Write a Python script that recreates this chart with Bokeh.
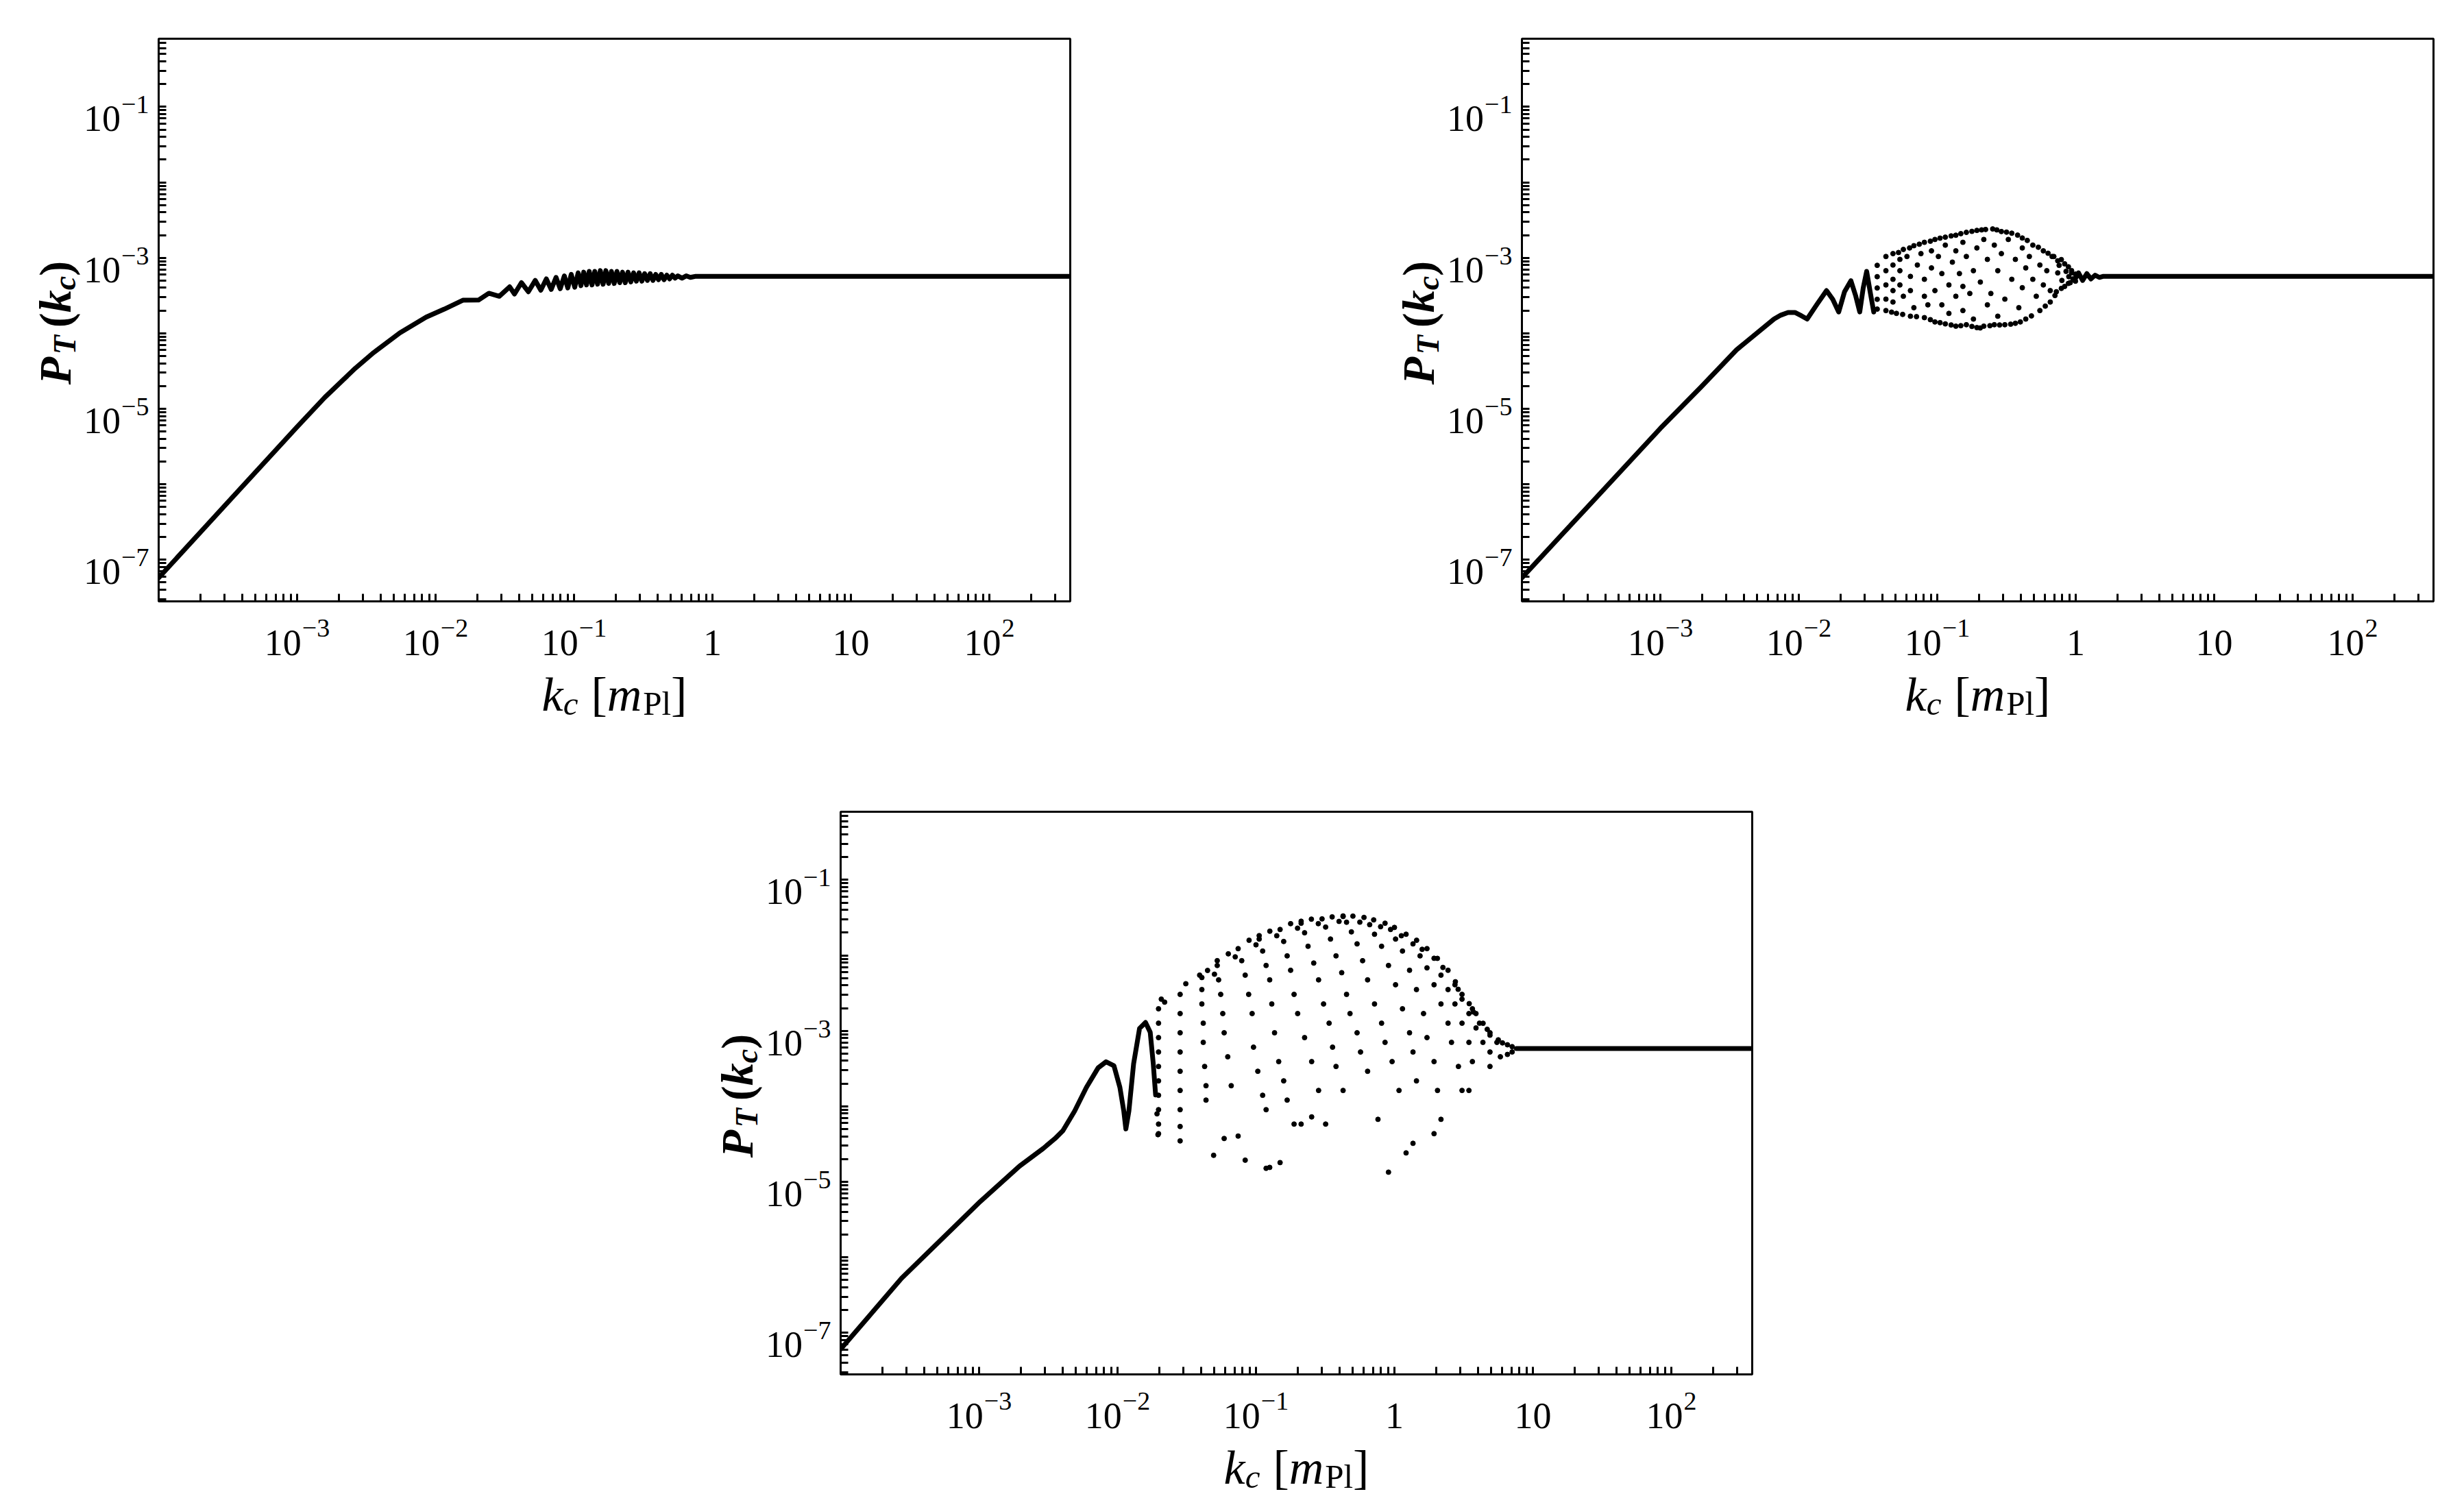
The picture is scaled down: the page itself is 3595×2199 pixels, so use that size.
import math
from bokeh.plotting import figure
from bokeh.models import Range1d, FixedTicker, Label, CustomJSTickFormatter, Spacer
from bokeh.layouts import column, row
from bokeh.embed import file_html
from bokeh.resources import INLINE

# ---------------- axis values ----------------
X_LIM_LOG10 = (-4.0, 2.584)
Y_LIM_LOG10 = (-7.553, -0.097)
x_tick_values = [1e-3, 1e-2, 1e-1, 1.0, 10.0, 100.0]
x_tick_base = ["10", "10", "10", "1", "10", "10"]
x_tick_exp = ["\u22123", "\u22122", "\u22121", "", "", "2"]
y_tick_values = [1e-7, 1e-5, 1e-3, 1e-1]
y_tick_base = ["10", "10", "10", "10"]
y_tick_exp = ["\u22127", "\u22125", "\u22123", "\u22121"]

# ---------------- data (log10 k_c, log10 P_T) ----------------
# panel A (top left): smooth rise, small oscillations, plateau
a_line = [(-4.0, -7.24), (-3.5, -6.24), (-3.0, -5.24), (-2.8, -4.85), (-2.581, -4.466),
          (-2.447, -4.256), (-2.258, -3.995), (-2.068, -3.787), (-1.937, -3.68), (-1.803, -3.562),
          (-1.69, -3.56), (-1.615, -3.47), (-1.54, -3.51), (-1.465, -3.385),
          (-1.43, -3.48), (-1.38, -3.33), (-1.33, -3.45), (-1.28, -3.30), (-1.24, -3.43),
          (-1.20, -3.28), (-1.165, -3.42), (-1.13, -3.26), (-1.10, -3.41), (-1.07, -3.24),
          (-1.045, -3.40), (-1.02, -3.22), (-0.995, -3.39), (-0.97, -3.20),
          (-0.95, -3.37), (-0.93, -3.19), (-0.91, -3.36), (-0.89, -3.18), (-0.87, -3.36),
          (-0.85, -3.18), (-0.83, -3.35), (-0.81, -3.17), (-0.79, -3.35), (-0.77, -3.17),
          (-0.75, -3.34), (-0.73, -3.18), (-0.71, -3.34), (-0.69, -3.18), (-0.67, -3.33),
          (-0.65, -3.19), (-0.63, -3.33), (-0.61, -3.19), (-0.59, -3.32), (-0.57, -3.20),
          (-0.55, -3.31), (-0.53, -3.20), (-0.51, -3.31), (-0.49, -3.21), (-0.47, -3.30),
          (-0.45, -3.21), (-0.43, -3.30), (-0.41, -3.22), (-0.39, -3.29), (-0.37, -3.22),
          (-0.35, -3.29), (-0.33, -3.23), (-0.31, -3.28), (-0.29, -3.23), (-0.27, -3.27),
          (-0.25, -3.24), (-0.22, -3.27), (-0.19, -3.24), (-0.16, -3.26), (-0.12, -3.245),
          (2.584, -3.245)]

# panel B (top right)
b_line_low = [(-4.0, -7.24), (-3.5, -6.25), (-3.0, -5.26), (-2.71, -4.72), (-2.45, -4.22),
              (-2.179, -3.812), (-2.13, -3.76), (-2.078, -3.725), (-2.028, -3.725), (-1.98, -3.77),
              (-1.94, -3.812), (-1.87, -3.62), (-1.80, -3.435), (-1.755, -3.55), (-1.712, -3.718),
              (-1.67, -3.45), (-1.624, -3.304), (-1.59, -3.5), (-1.56, -3.718), (-1.535, -3.40),
              (-1.51, -3.18), (-1.485, -3.45), (-1.459, -3.718)]
b_line_high = [(-0.01, -3.30), (0.02, -3.20), (0.05, -3.30), (0.08, -3.21), (0.11, -3.28),
               (0.14, -3.23), (0.17, -3.26), (0.20, -3.245), (2.584, -3.245)]
b_dots = [(-1.434, -3.10), (-1.434, -3.25), (-1.434, -3.40), (-1.434, -3.55), (-1.434, -3.68),
          (-1.320, -2.945), (-1.245, -2.889), (-1.169, -2.840), (-1.093, -2.795), (-1.017, -2.757),
          (-0.942, -2.727), (-0.866, -2.701), (-0.790, -2.663), (-0.714, -2.637), (-0.651, -2.625),
          (-0.600, -2.618), (-0.537, -2.652), (-0.462, -2.674), (-0.386, -2.738), (-0.310, -2.832),
          (-0.234, -2.908), (-0.171, -2.983),
          (-1.371, -3.699), (-1.295, -3.737), (-1.194, -3.774), (-1.093, -3.793), (-1.017, -3.850),
          (-0.942, -3.876), (-0.866, -3.906), (-0.790, -3.887), (-0.714, -3.925), (-0.664, -3.906),
          (-0.588, -3.887), (-0.512, -3.887), (-0.436, -3.868), (-0.361, -3.812), (-0.259, -3.699),
          (-0.184, -3.586),
          (-1.371, -2.983), (-1.371, -3.171), (-1.371, -3.360), (-1.371, -3.548),
          (-1.320, -3.096), (-1.320, -3.285), (-1.320, -3.435), (-1.320, -3.586),
          (-1.270, -3.021), (-1.270, -3.171), (-1.270, -3.360), (-1.245, -3.510),
          (-1.219, -2.983), (-1.194, -3.247), (-1.194, -3.435), (-1.169, -3.661),
          (-1.144, -3.096), (-1.118, -2.945), (-1.093, -3.285), (-1.093, -3.510),
          (-1.068, -3.624), (-1.042, -2.908), (-1.042, -3.134), (-1.017, -3.435),
          (-0.992, -2.983), (-0.967, -3.209), (-0.967, -3.624), (-0.942, -2.832),
          (-0.916, -3.360), (-0.916, -3.737), (-0.891, -3.058), (-0.866, -2.908),
          (-0.866, -3.510), (-0.840, -3.209), (-0.815, -2.795), (-0.815, -3.379),
          (-0.815, -3.699), (-0.790, -2.983), (-0.765, -3.473), (-0.739, -3.171),
          (-0.739, -3.812), (-0.714, -2.870), (-0.689, -3.322), (-0.664, -2.757),
          (-0.638, -3.021), (-0.638, -3.624), (-0.613, -3.473), (-0.588, -2.832),
          (-0.563, -3.171), (-0.563, -3.774), (-0.537, -2.945), (-0.512, -3.548),
          (-0.487, -2.757), (-0.462, -3.285), (-0.436, -3.021), (-0.411, -3.661),
          (-0.386, -2.870), (-0.386, -3.397), (-0.361, -3.134), (-0.335, -2.983),
          (-0.310, -3.285), (-0.285, -3.510), (-0.259, -3.096), (-0.234, -3.360),
          (-0.209, -3.171), (-0.184, -3.435), (-0.158, -2.983),
          (-0.104, -3.024), (-0.053, -3.12), (-0.002, -3.216), (-0.104, -3.406),
          (-0.053, -3.34), (-0.002, -3.31), (-0.13, -3.2), (-0.10, -3.3), (-0.07, -3.18),
          (-0.05, -3.25), (-0.03, -3.2), (-0.02, -3.28), (-0.12, -3.1), (-0.14, -3.45),
          (-1.28, -2.93), (-1.2, -2.87), (-1.13, -2.82), (-1.05, -2.78), (-0.98, -2.74),
          (-0.9, -2.71), (-0.83, -2.68), (-0.75, -2.65), (-0.68, -2.63), (-0.57, -2.63),
          (-0.5, -2.66), (-0.42, -2.70), (-0.35, -2.77), (-0.27, -2.86), (-0.2, -2.94),
          (-0.13, -3.04), (-0.08, -3.08), (-0.03, -3.17),
          (-1.33, -3.72), (-1.25, -3.75), (-1.15, -3.78), (-1.05, -3.82), (-0.98, -3.86),
          (-0.9, -3.89), (-0.83, -3.9), (-0.75, -3.91), (-0.69, -3.93), (-0.62, -3.9),
          (-0.55, -3.89), (-0.47, -3.88), (-0.4, -3.85), (-0.32, -3.77), (-0.22, -3.64),
          (-0.15, -3.5), (-0.08, -3.38), (-0.04, -3.33)]

# panel C (bottom)
c_line_low = [(-4.0, -7.22), (-3.56, -6.28), (-2.992, -5.263), (-2.708, -4.793), (-2.537, -4.559),
              (-2.452, -4.428), (-2.395, -4.324), (-2.31, -4.063), (-2.225, -3.75), (-2.14, -3.49),
              (-2.083, -3.411), (-2.026, -3.463), (-1.983, -3.75), (-1.955, -4.063), (-1.94, -4.30),
              (-1.918, -4.063), (-1.884, -3.437), (-1.841, -2.968), (-1.798, -2.89), (-1.764, -3.02),
              (-1.742, -3.437), (-1.725, -3.85)]
c_line_high = [(0.88, -3.235), (2.584, -3.235)]
c_dots = [(-1.708, -4.376), (-1.715, -4.10),
          (-1.704, -2.708), (-1.704, -2.899), (-1.704, -3.090), (-1.704, -3.281), (-1.704, -3.472),
          (-1.704, -3.663), (-1.704, -3.854), (-1.704, -4.045), (-1.704, -4.236), (-1.704, -4.363),
          (-1.684, -2.58), (-1.66, -2.62),
          (-1.548, -2.517), (-1.548, -2.771), (-1.548, -3.026), (-1.548, -3.281), (-1.548, -3.536),
          (-1.548, -3.790), (-1.548, -4.045), (-1.548, -4.268), (-1.548, -4.459), (-1.507, -2.376),
          (-1.391, -2.294), (-1.391, -2.453), (-1.391, -2.644), (-1.381, -2.899), (-1.381, -3.153),
          (-1.371, -3.472), (-1.361, -3.727), (-1.361, -3.918),
          (-1.280, -2.134), (-1.270, -2.325), (-1.255, -2.517), (-1.240, -2.771), (-1.230, -3.026),
          (-1.204, -3.344), (-1.179, -3.727), (-1.230, -4.427), (-1.129, -4.395),
          (-1.129, -1.911), (-1.103, -2.071), (-1.078, -2.262), (-1.053, -2.517), (-1.028, -2.771),
          (-1.018, -3.217), (-0.987, -3.536), (-0.952, -3.854), (-0.927, -4.045), (-0.901, -4.810),
          (-0.826, -4.746),
          (-0.977, -1.784), (-0.952, -1.943), (-0.927, -2.134), (-0.901, -2.325), (-0.886, -2.644),
          (-0.866, -3.026), (-0.836, -3.408), (-0.800, -3.663), (-0.775, -3.918), (-0.725, -4.236),
          (-0.826, -1.657), (-0.800, -1.816), (-0.775, -2.007), (-0.750, -2.198), (-0.725, -2.517),
          (-0.699, -2.771), (-0.649, -3.090), (-0.598, -3.408), (-0.548, -3.790), (-0.674, -4.236),
          (-0.598, -4.141),
          (-0.674, -1.574), (-0.649, -1.701), (-0.624, -1.880), (-0.583, -2.102), (-0.548, -2.325),
          (-0.512, -2.644), (-0.472, -2.899), (-0.447, -3.217), (-0.422, -3.472), (-0.371, -3.790),
          (-0.497, -4.236),
          (-0.523, -1.517), (-0.497, -1.625), (-0.462, -1.784), (-0.422, -2.007), (-0.381, -2.230),
          (-0.346, -2.517), (-0.321, -2.771), (-0.270, -3.026), (-0.245, -3.281), (-0.194, -3.536),
          (-0.119, -4.173),
          (-0.371, -1.485), (-0.346, -1.561), (-0.311, -1.689), (-0.270, -1.848), (-0.230, -2.071),
          (-0.194, -2.325), (-0.144, -2.644), (-0.093, -2.899), (-0.068, -3.153), (-0.017, -3.408),
          (0.033, -3.790), (-0.043, -4.873),
          (-0.220, -1.497), (-0.179, -1.593), (-0.144, -1.720), (-0.093, -1.880), (-0.043, -2.134),
          (0.008, -2.389), (0.058, -2.708), (0.109, -3.026), (0.134, -3.281), (0.159, -3.663),
          (0.084, -4.618), (0.134, -4.491),
          (-0.068, -1.574), (-0.028, -1.657), (0.008, -1.784), (0.058, -1.943), (0.109, -2.198),
          (0.159, -2.453), (0.210, -2.771), (0.235, -3.090), (0.286, -3.408), (0.311, -3.790),
          (0.286, -4.363), (0.336, -4.173),
          (0.084, -1.720), (0.134, -1.848), (0.185, -2.007), (0.235, -2.166), (0.286, -2.389),
          (0.336, -2.644), (0.387, -2.899), (0.412, -3.153), (0.462, -3.472), (0.488, -3.790),
          (0.235, -1.911), (0.286, -2.039), (0.336, -2.262), (0.387, -2.453), (0.437, -2.644),
          (0.488, -2.899), (0.538, -3.153), (0.563, -3.408),
          (0.387, -2.198), (0.437, -2.389), (0.488, -2.580), (0.538, -2.771), (0.589, -2.962),
          (0.639, -3.153), (0.690, -3.281),
          (0.488, -2.517), (0.563, -2.708), (0.614, -2.899), (0.690, -3.058), (0.740, -3.153),
          (0.765, -3.344),
          (-1.407, -2.262), (-1.28, -2.07), (-0.977, -1.739), (-0.674, -1.548), (-0.371, -1.478),
          (0.589, -2.771), (0.69, -3.026), (0.816, -3.185), (0.85, -3.21),
          (-1.306, -4.65), (-1.078, -4.714), (-0.927, -4.822), (0.538, -3.79), (0.69, -3.472),
          (0.816, -3.313), (0.85, -3.28),
          (-1.35, -2.20), (-1.2, -1.98), (-1.05, -1.80), (-0.9, -1.68), (-0.75, -1.58),
          (-0.6, -1.52), (-0.45, -1.49), (-0.3, -1.48), (-0.15, -1.53), (0.0, -1.63),
          (0.16, -1.80), (0.31, -2.04), (0.44, -2.35), (0.54, -2.64), (0.64, -2.90), (0.75, -3.12),
          (-1.30, -2.25), (-1.15, -2.02), (-1.0, -1.86), (-0.85, -1.74), (-0.7, -1.64),
          (-0.55, -1.58), (-0.4, -1.55), (-0.25, -1.56), (-0.1, -1.62), (0.05, -1.74),
          (0.2, -1.92), (0.35, -2.16), (0.46, -2.45), (0.57, -2.75), (0.67, -2.98), (0.78, -3.16)]

# ---------------- styling / layout constants ----------------
FONT = "Liberation Serif"
TICK_FS, EXP_FS = 54, 38
M = 6                      # border around each frame
FRAME_W, FRAME_H = 1330, 821
X_MIN, X_MAX = 10 ** X_LIM_LOG10[0], 10 ** X_LIM_LOG10[1]
Y_MIN, Y_MAX = 10 ** Y_LIM_LOG10[0], 10 ** Y_LIM_LOG10[1]
X_MID = 10 ** (sum(X_LIM_LOG10) / 2)
Y_MID = 10 ** (sum(Y_LIM_LOG10) / 2)

x_minor = [m * 10.0 ** d for d in range(-4, 3) for m in range(2, 10) if m * 10.0 ** d <= X_MAX]
y_minor = [m * 10.0 ** d for d in range(-8, 0) for m in range(1, 10)
           if Y_MIN <= m * 10.0 ** d <= Y_MAX and not (m == 1 and d % 2 == 1)]


def text_w(s, size):
    return sum(0.564 * size if ch == "\u2212" else 0.5 * size for ch in s)


def add_label(p, text, x, y, xo, yo, size, style="normal", align="left", angle=0.0):
    p.add_layout(Label(x=x, y=y, x_units="data", y_units="data", x_offset=xo, y_offset=yo,
                       text=text, text_font=FONT, text_font_size=f"{size}px",
                       text_font_style=style, text_align=align, text_baseline="alphabetic",
                       angle=angle, text_color="black"))


def unz(pairs):
    return [10 ** a for a, _ in pairs], [10 ** b for _, b in pairs]


def bare(p):
    p.outline_line_color = None
    p.background_fill_color = "white"
    p.border_fill_color = "white"
    return p


def main_fig(xr, yr, top, lines, dots):
    p = figure(width=FRAME_W + 2 * M, height=FRAME_H + top + M, x_axis_type="log", y_axis_type="log",
               x_range=xr, y_range=yr, output_backend="svg", toolbar_location=None,
               min_border_left=M, min_border_right=M, min_border_top=top, min_border_bottom=M)
    p.grid.visible = False
    p.background_fill_color = "white"
    p.border_fill_color = "white"
    p.outline_line_color = "black"
    p.outline_line_width = 3
    p.outline_line_alpha = 1.0
    for ax in (p.xaxis[0], p.yaxis[0]):
        ax.axis_line_width = 3
        ax.axis_line_color = "black"
        ax.major_tick_in = 11
        ax.major_tick_out = 0
        ax.minor_tick_in = 11
        ax.minor_tick_out = 0
        ax.major_tick_line_width = 3
        ax.minor_tick_line_width = 3
        ax.major_tick_line_color = "black"
        ax.minor_tick_line_color = "black"
        ax.formatter = CustomJSTickFormatter(code="return ''")
        ax.major_label_text_font_size = "0px"
        ax.major_label_standoff = 0
    p.xaxis.ticker = FixedTicker(ticks=x_tick_values, minor_ticks=x_minor)
    p.yaxis.ticker = FixedTicker(ticks=y_tick_values, minor_ticks=y_minor)
    for seg in lines:
        xs, ys = unz(seg)
        p.line(xs, ys, line_width=7, line_color="black", line_join="round", line_cap="round")
    if dots:
        xs, ys = unz(dots)
        p.scatter(xs, ys, size=7, marker="circle", fill_color="black", line_color="black")
    return p


def left_strip(yr, w, top):
    s = bare(figure(width=w, height=FRAME_H + top + M, y_axis_type="log",
                    x_range=Range1d(0, w), y_range=yr, output_backend="svg", toolbar_location=None,
                    x_axis_location=None, y_axis_location=None,
                    min_border_left=0, min_border_right=0, min_border_top=top, min_border_bottom=M))
    s.grid.visible = False
    # y tick labels (10^n)
    for v, base, ex in zip(y_tick_values, y_tick_base, y_tick_exp):
        ew = text_w(ex, EXP_FS)
        add_label(s, ex, w, v, -(14 - M), 3, EXP_FS, align="right")
        add_label(s, base, w, v, -(14 - M) - ew - 1, -17.5, TICK_FS, align="right")
    # y axis title  P_T (k_c)
    pieces = [("P", 66, "bold italic", 0.667, 0), ("T", 46, "bold italic", 0.611, 14),
              (None, 11, None, 1.0, 0), ("(", 66, "bold", 0.333, 0), ("k", 66, "bold italic", 0.5, 0),
              ("c", 46, "bold italic", 0.444, 14), (")", 66, "bold", 0.333, 0)]
    total = sum(sz * f for _, sz, _, f, _ in pieces)
    pos = -total / 2 - 4
    for t, sz, st, f, sub in pieces:
        if t is not None:
            add_label(s, t, w, Y_MID, -(151 - M) + sub, pos, sz, style=st, angle=math.pi / 2)
        pos += sz * f
    return s


def bottom_strip(xr, h):
    s = bare(figure(width=FRAME_W + 2 * M, height=h, x_axis_type="log",
                    x_range=xr, y_range=Range1d(-h, 0), output_backend="svg", toolbar_location=None,
                    x_axis_location=None, y_axis_location=None,
                    min_border_left=M, min_border_right=M, min_border_top=0, min_border_bottom=0))
    s.grid.visible = False
    base_y = -(60 - M)
    exp_y = base_y + 21
    for v, base, ex in zip(x_tick_values, x_tick_base, x_tick_exp):
        bw = text_w(base, TICK_FS)
        if ex:
            W = bw + text_w(ex, EXP_FS) + 1
            add_label(s, base, v, base_y, -W / 2, 0, TICK_FS)
            add_label(s, ex, v, exp_y, -W / 2 + bw + 1, 0, EXP_FS)
        else:
            add_label(s, base, v, base_y, 0, 0, TICK_FS, align="center")
    # x axis title  k_c [m_Pl]
    xpieces = [("k", 70, "italic", 0.444, 0), ("c", 49, "italic", 0.444, 13),
               (None, 19, None, 1.0, 0), ("[", 70, "normal", 0.333, 0), ("m", 70, "italic", 0.722, 0),
               (None, 2, None, 1.0, 0), ("Pl", 49, "normal", 0.834, 13), ("]", 70, "normal", 0.333, 0)]
    total = sum(sz * f for _, sz, _, f, _ in xpieces)
    pos = -total / 2
    title_y = -(136 - M)
    for t, sz, st, f, sub in xpieces:
        if t is not None:
            add_label(s, t, X_MID, title_y - sub, pos, 0, sz, style=st)
        pos += sz * f
    return s


def panel(top, left_w, bottom_h, lines, dots):
    xr = Range1d(X_MIN, X_MAX)
    yr = Range1d(Y_MIN, Y_MAX)
    return (left_strip(yr, left_w, top), main_fig(xr, yr, top, lines, dots),
            bottom_strip(xr, bottom_h))


PAGE_PAD = 8
TOP1, BOT1 = 48, 207
aL, aM, aB = panel(TOP1, 217, BOT1, [a_line], [])
bL, bM, bB = panel(TOP1, 647, BOT1, [b_line_low, b_line_high], b_dots)
TOP3, BOT3 = 94, 172
cL, cM, cB = panel(TOP3, 400, BOT3, [c_line_low, c_line_high], c_dots)

grid = column(
    row(aL, aM, bL, bM),
    row(Spacer(width=217, height=BOT1), aB, Spacer(width=647, height=BOT1), bB),
    row(Spacer(width=812, height=FRAME_H + TOP3 + M), cL, cM),
    row(Spacer(width=1212, height=BOT3), cB),
)
layout = column(Spacer(width=10, height=PAGE_PAD), row(Spacer(width=PAGE_PAD, height=10), grid))
open("out.html", "w").write(file_html(layout, INLINE))
